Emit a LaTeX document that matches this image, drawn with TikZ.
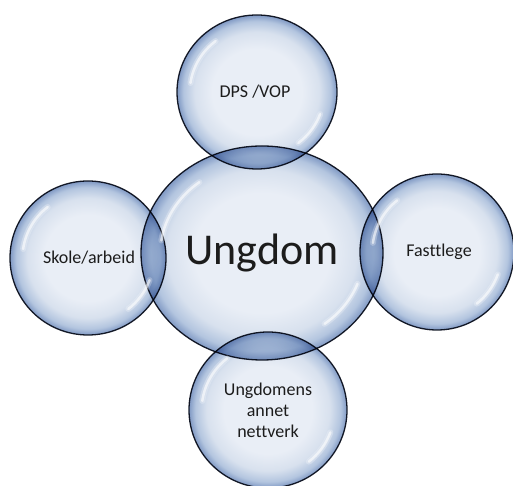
\documentclass[tikz,border=0pt]{standalone}
\usepackage{fontspec}
\setmainfont{Carlito}[Ligatures=NoCommon]
\usetikzlibrary{shapes.geometric,calc}

% glassy bubble colours
\definecolor{bubC}{HTML}{E9EEF6}
\definecolor{bubM}{HTML}{D8E1EE}
\definecolor{bubE}{HTML}{B3C5DF}
\definecolor{bubR}{HTML}{8099C4}
\definecolor{rim}{HTML}{1A1F2C}
\definecolor{ink}{HTML}{1C1C1C}

% pale centre, blue towards the rim (25bp = path border)
\pgfdeclareradialshading{bubble}{\pgfpoint{0bp}{0bp}}{%
  color(0bp)=(bubC); color(14bp)=(bubC); color(19.5bp)=(bubM);
  color(23bp)=(bubE); color(25bp)=(bubR); color(50bp)=(bubR)}

\tikzset{
  bubblenode/.style n args={2}{ellipse, inner sep=0pt,
    minimum width=#1pt, minimum height=#2pt,
    shading=bubble, draw=rim, line width=1.3pt,
    blend mode=multiply, text=ink},
  smalltext/.style={font=\fontsize{18}{21}\selectfont, align=center},
  bigtext/.style={font=\fontsize{44}{50}\selectfont},
  glossline/.style={draw=white, line cap=round, line width=2.5pt, opacity=0.6},
  glosswide/.style={draw=white, line cap=round, line width=6pt, opacity=0.25},
}

% white reflections on the upper left and lower right of a bubble
\newcommand\gloss[3]{%
  \pgfmathsetmacro\glrx{0.84*#2}\pgfmathsetmacro\glry{0.84*#3}%
  \foreach \st in {glosswide,glossline}{%
    \draw[\st] ($(#1.center)+(128:\glrx pt and \glry pt)$)
      arc[start angle=128, end angle=172, x radius=\glrx pt, y radius=\glry pt];
    \draw[\st] ($(#1.center)+(-20:\glrx pt and \glry pt)$)
      arc[start angle=-20, end angle=-52, x radius=\glrx pt, y radius=\glry pt];
  }%
}

\begin{document}
\begin{tikzpicture}[x=1pt, y=1pt]
  \fill[white] (0,0) rectangle (513,486);
  \useasboundingbox (0,0) rectangle (513,486);

  % bubbles (multiplied, so overlaps turn darker blue)
  \node[bubblenode={242}{214}] (core) at (262,233) {};
  \node[bubblenode={160}{154}] (dps) at (257,394) {};
  \node[bubblenode={156}{154}] (skole) at (88,228) {};
  \node[bubblenode={154}{156}] (lege) at (437,234) {};
  \node[bubblenode={158}{156}] (nett) at (268,76) {};

  % reflections
  \gloss{core}{121}{107}
  \gloss{dps}{80}{77}
  \gloss{skole}{78}{77}
  \gloss{lege}{77}{78}
  \gloss{nett}{79}{78}

  % labels
  \node[bigtext, text=ink] (tcore) at (core.center) {Ungdom};
  \node[smalltext, text=ink] (tdps) at (255,394) {DPS /VOP};
  \node[smalltext, text=ink] (tskole) at (89,228) {Skole/arbeid};
  \node[smalltext, text=ink] (tlege) at (439,234) {Fasttlege};
  \node[smalltext, text=ink] (tnett) at (268,76) {Ungdomens\\annet\\nettverk};
\end{tikzpicture}
\end{document}
